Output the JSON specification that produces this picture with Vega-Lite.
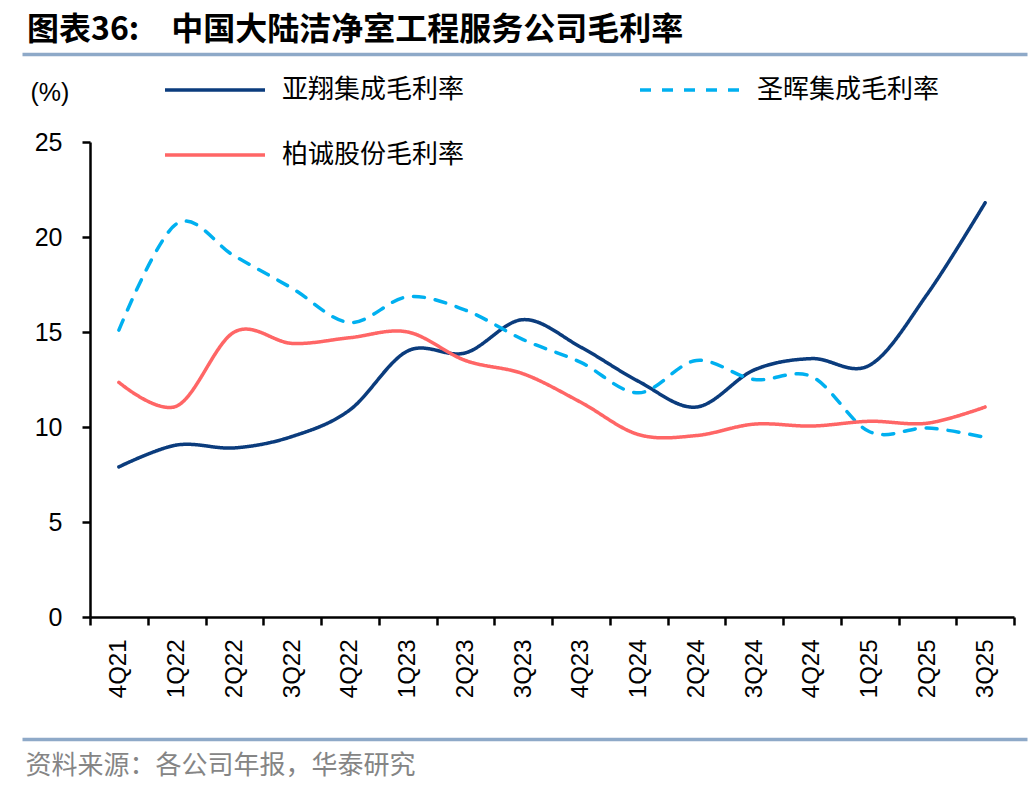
{
  "$schema": "https://vega.github.io/schema/vega-lite/v6.json",
  "width": 924,
  "height": 475,
  "autosize": {"type": "none"},
  "padding": {"left": 90, "top": 142, "right": 22, "bottom": 175},
  "background": "white",
  "config": {"view": {"stroke": null}, "font": "Liberation Sans"},
  "title": {
    "text": "图表36:\u3000中国大陆洁净室工程服务公司毛利率",
    "anchor": "start",
    "frame": "group",
    "dx": -63,
    "offset": -9,
    "font": "Noto Sans CJK SC",
    "fontSize": 32,
    "fontWeight": "bold",
    "color": "black"
  },
  "data": {
    "values": [
      {"q": "4Q21", "s": "亚翔集成毛利率", "v": 7.9},
      {"q": "1Q22", "s": "亚翔集成毛利率", "v": 9.05},
      {"q": "2Q22", "s": "亚翔集成毛利率", "v": 8.9},
      {"q": "3Q22", "s": "亚翔集成毛利率", "v": 9.5},
      {"q": "4Q22", "s": "亚翔集成毛利率", "v": 10.9},
      {"q": "1Q23", "s": "亚翔集成毛利率", "v": 14.0},
      {"q": "2Q23", "s": "亚翔集成毛利率", "v": 13.9},
      {"q": "3Q23", "s": "亚翔集成毛利率", "v": 15.65},
      {"q": "4Q23", "s": "亚翔集成毛利率", "v": 14.2},
      {"q": "1Q24", "s": "亚翔集成毛利率", "v": 12.4},
      {"q": "2Q24", "s": "亚翔集成毛利率", "v": 11.05},
      {"q": "3Q24", "s": "亚翔集成毛利率", "v": 13.0},
      {"q": "4Q24", "s": "亚翔集成毛利率", "v": 13.6},
      {"q": "1Q25", "s": "亚翔集成毛利率", "v": 13.25},
      {"q": "2Q25", "s": "亚翔集成毛利率", "v": 17.0},
      {"q": "3Q25", "s": "亚翔集成毛利率", "v": 21.8},
      {"q": "4Q21", "s": "圣晖集成毛利率", "v": 15.1},
      {"q": "1Q22", "s": "圣晖集成毛利率", "v": 20.7},
      {"q": "2Q22", "s": "圣晖集成毛利率", "v": 19.0},
      {"q": "3Q22", "s": "圣晖集成毛利率", "v": 17.3},
      {"q": "4Q22", "s": "圣晖集成毛利率", "v": 15.5},
      {"q": "1Q23", "s": "圣晖集成毛利率", "v": 16.85},
      {"q": "2Q23", "s": "圣晖集成毛利率", "v": 16.15},
      {"q": "3Q23", "s": "圣晖集成毛利率", "v": 14.6},
      {"q": "4Q23", "s": "圣晖集成毛利率", "v": 13.4},
      {"q": "1Q24", "s": "圣晖集成毛利率", "v": 11.8},
      {"q": "2Q24", "s": "圣晖集成毛利率", "v": 13.5},
      {"q": "3Q24", "s": "圣晖集成毛利率", "v": 12.5},
      {"q": "4Q24", "s": "圣晖集成毛利率", "v": 12.65},
      {"q": "1Q25", "s": "圣晖集成毛利率", "v": 9.75},
      {"q": "2Q25", "s": "圣晖集成毛利率", "v": 9.95},
      {"q": "3Q25", "s": "圣晖集成毛利率", "v": 9.45},
      {"q": "4Q21", "s": "柏诚股份毛利率", "v": 12.35},
      {"q": "1Q22", "s": "柏诚股份毛利率", "v": 11.1},
      {"q": "2Q22", "s": "柏诚股份毛利率", "v": 15.0},
      {"q": "3Q22", "s": "柏诚股份毛利率", "v": 14.4},
      {"q": "4Q22", "s": "柏诚股份毛利率", "v": 14.7},
      {"q": "1Q23", "s": "柏诚股份毛利率", "v": 15.0},
      {"q": "2Q23", "s": "柏诚股份毛利率", "v": 13.5},
      {"q": "3Q23", "s": "柏诚股份毛利率", "v": 12.8},
      {"q": "4Q23", "s": "柏诚股份毛利率", "v": 11.3},
      {"q": "1Q24", "s": "柏诚股份毛利率", "v": 9.6},
      {"q": "2Q24", "s": "柏诚股份毛利率", "v": 9.55},
      {"q": "3Q24", "s": "柏诚股份毛利率", "v": 10.15},
      {"q": "4Q24", "s": "柏诚股份毛利率", "v": 10.05},
      {"q": "1Q25", "s": "柏诚股份毛利率", "v": 10.3},
      {"q": "2Q25", "s": "柏诚股份毛利率", "v": 10.2},
      {"q": "3Q25", "s": "柏诚股份毛利率", "v": 11.05}
    ]
  },
  "layer": [
    {
      "mark": {"type": "line", "interpolate": "cardinal", "strokeCap": "round", "strokeJoin": "round"},
      "encoding": {
        "x": {
          "field": "q",
          "type": "nominal",
          "sort": null,
          "bandPosition": 0.5,
          "scale": {
            "type": "band",
            "domain": ["4Q21", "1Q22", "2Q22", "3Q22", "4Q22", "1Q23", "2Q23", "3Q23", "4Q23", "1Q24", "2Q24", "3Q24", "4Q24", "1Q25", "2Q25", "3Q25"],
            "paddingInner": 0,
            "paddingOuter": 0
          },
          "axis": {
            "title": "资料来源：各公司年报，华泰研究",
            "titleX": -65,
            "titleY": 148,
            "titleAlign": "left",
            "titleBaseline": "middle",
            "titleFont": "Noto Sans CJK SC",
            "titleFontSize": 26,
            "titleFontWeight": "normal",
            "titleColor": "#858585",
            "labelAngle": -90,
            "labelFont": "Liberation Sans",
            "labelFontSize": 24,
            "labelColor": "black",
            "labelPadding": 14,
            "tickBand": "extent",
            "tickSize": 8,
            "tickWidth": 2.5,
            "tickColor": "black",
            "domainColor": "black",
            "domainWidth": 2.5
          }
        },
        "y": {
          "field": "v",
          "type": "quantitative",
          "scale": {"domain": [0, 25], "nice": false},
          "axis": {
            "values": [0, 5, 10, 15, 20, 25],
            "grid": false,
            "title": "(%)",
            "titleAngle": 0,
            "titleX": -60,
            "titleY": -50,
            "titleAlign": "left",
            "titleBaseline": "middle",
            "titleFont": "Liberation Sans",
            "titleFontSize": 25,
            "titleFontWeight": "normal",
            "titleColor": "black",
            "labelFont": "Liberation Sans",
            "labelFontSize": 25,
            "labelColor": "black",
            "labelPadding": 20,
            "tickSize": 8,
            "tickWidth": 2.5,
            "tickColor": "black",
            "domainColor": "black",
            "domainWidth": 2.5
          }
        },
        "color": {
          "field": "s",
          "type": "nominal",
          "scale": {
            "domain": ["亚翔集成毛利率", "圣晖集成毛利率", "柏诚股份毛利率"],
            "range": ["#0B3C7D", "#00B0F0", "#FF6666"]
          },
          "legend": {
            "orient": "none",
            "legendX": 73,
            "legendY": -104,
            "direction": "horizontal",
            "columns": 2,
            "title": null,
            "symbolType": "stroke",
            "symbolSize": 10000,
            "labelFont": "Noto Sans CJK SC",
            "labelFontSize": 26,
            "labelColor": "black",
            "labelOffset": 15,
            "labelLimit": 400,
            "columnPadding": 168,
            "rowPadding": -11
          }
        },
        "strokeDash": {
          "field": "s",
          "type": "nominal",
          "scale": {
            "domain": ["亚翔集成毛利率", "圣晖集成毛利率", "柏诚股份毛利率"],
            "range": [[1, 0], [11, 11], [1, 0]]
          }
        },
        "strokeWidth": {
          "field": "s",
          "type": "nominal",
          "scale": {
            "domain": ["亚翔集成毛利率", "圣晖集成毛利率", "柏诚股份毛利率"],
            "range": [3.5, 3.5, 6.5]
          }
        }
      }
    },
    {
      "mark": {"type": "point", "opacity": 0},
      "encoding": {
        "x": {
          "field": "q",
          "type": "nominal",
          "scale": {"type": "point", "range": [-68, 937]},
          "axis": {"orient": "top", "offset": 88, "domainColor": "#8EA9C8", "domainWidth": 3.5, "ticks": false, "labels": false, "title": null}
        },
        "y": {"field": "v", "type": "quantitative"}
      }
    },
    {
      "mark": {"type": "point", "opacity": 0},
      "encoding": {
        "x": {
          "field": "q",
          "type": "nominal",
          "scale": {"type": "point", "range": [-68, 937]},
          "axis": {"orient": "bottom", "offset": 122, "domainColor": "#8EA9C8", "domainWidth": 3.5, "ticks": false, "labels": false, "title": null}
        },
        "y": {"field": "v", "type": "quantitative"}
      }
    }
  ],
  "resolve": {"scale": {"x": "independent"}}
}
